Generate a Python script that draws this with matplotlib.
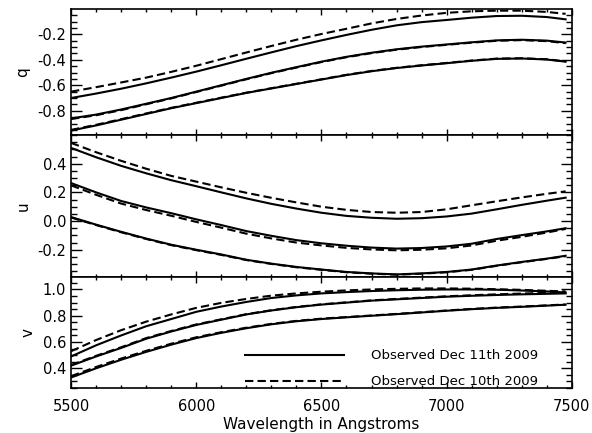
import matplotlib
matplotlib.use("Agg")
import matplotlib.pyplot as plt
from matplotlib.ticker import MultipleLocator, FormatStrFormatter

plt.rcParams['font.family'] = ['DejaVu Sans']

wave = [5500, 5600, 5700, 5800, 5900, 6000, 6100, 6200, 6300, 6400, 6500,
        6600, 6700, 6800, 6900, 7000, 7100, 7200, 7300, 7400, 7475]

# q panel: three curves per date
q_dec11 = [
    [-0.70, -0.665, -0.627, -0.585, -0.54, -0.493, -0.443, -0.392, -0.342, -0.293, -0.248,
     -0.205, -0.165, -0.13, -0.105, -0.088, -0.07, -0.057, -0.055, -0.065, -0.083],
    [-0.86, -0.83, -0.79, -0.745, -0.70, -0.65, -0.60, -0.55, -0.502, -0.458, -0.415,
     -0.377, -0.345, -0.318, -0.297, -0.28, -0.263, -0.248, -0.243, -0.25, -0.265],
    [-0.955, -0.915, -0.87, -0.825, -0.78, -0.74, -0.70, -0.66, -0.625, -0.59, -0.555,
     -0.52, -0.49, -0.465, -0.445, -0.427, -0.408, -0.393, -0.39, -0.398, -0.415],
]
q_dec10 = [
    [-0.65, -0.615, -0.578, -0.54, -0.495, -0.447, -0.395, -0.343, -0.292, -0.243, -0.198,
     -0.157, -0.115, -0.08, -0.053, -0.032, -0.02, -0.015, -0.015, -0.025, -0.04],
    [-0.865, -0.835, -0.795, -0.749, -0.703, -0.653, -0.603, -0.553, -0.505, -0.461, -0.418,
     -0.38, -0.348, -0.321, -0.3, -0.283, -0.266, -0.251, -0.246, -0.254, -0.27],
    [-0.95, -0.91, -0.866, -0.821, -0.777, -0.737, -0.697, -0.658, -0.623, -0.588, -0.553,
     -0.518, -0.488, -0.463, -0.443, -0.425, -0.406, -0.391, -0.388, -0.396, -0.413],
]

# u panel
u_dec11 = [
    [0.51, 0.445, 0.385, 0.333, 0.285, 0.243, 0.2, 0.158, 0.12, 0.087, 0.058,
     0.036, 0.023, 0.016, 0.02, 0.032, 0.052, 0.082, 0.113, 0.142, 0.163],
    [0.265, 0.20, 0.14, 0.095, 0.055, 0.012, -0.028, -0.07, -0.103, -0.133, -0.155,
     -0.172, -0.185, -0.192, -0.188, -0.177, -0.158, -0.125, -0.098, -0.072, -0.05],
    [0.028, -0.025, -0.075, -0.122, -0.165, -0.20, -0.233, -0.27, -0.297, -0.32, -0.338,
     -0.355, -0.365, -0.372, -0.365, -0.355, -0.338, -0.31, -0.285, -0.262, -0.242],
]
u_dec10 = [
    [0.545, 0.48, 0.42, 0.365, 0.315, 0.275, 0.235, 0.197, 0.162, 0.13, 0.10,
     0.078, 0.063, 0.058, 0.063, 0.082, 0.11, 0.138, 0.165, 0.19, 0.207],
    [0.249, 0.183, 0.122, 0.077, 0.037, -0.006, -0.046, -0.088, -0.121, -0.15, -0.17,
     -0.187, -0.198, -0.204, -0.2, -0.19, -0.17, -0.137, -0.11, -0.08, -0.055],
    [0.025, -0.028, -0.078, -0.125, -0.168, -0.203, -0.236, -0.272, -0.299, -0.322, -0.34,
     -0.357, -0.367, -0.374, -0.367, -0.357, -0.34, -0.312, -0.287, -0.264, -0.245],
]

# v panel
v_dec11 = [
    [0.49, 0.575, 0.65, 0.72, 0.775, 0.83, 0.87, 0.905, 0.935, 0.955, 0.97,
     0.98, 0.988, 0.994, 0.998, 1.0, 1.0, 0.998, 0.992, 0.985, 0.977],
    [0.42, 0.49, 0.555, 0.625, 0.68, 0.73, 0.77, 0.81, 0.84, 0.865, 0.885,
     0.90, 0.915, 0.925, 0.935, 0.945, 0.952, 0.958, 0.963, 0.967, 0.97],
    [0.33, 0.40, 0.465, 0.525, 0.58, 0.63, 0.67, 0.705, 0.735, 0.758, 0.775,
     0.788, 0.80, 0.812, 0.825, 0.838, 0.85, 0.86, 0.868, 0.877, 0.884],
]
v_dec10 = [
    [0.53, 0.615, 0.69, 0.755, 0.81, 0.86, 0.898, 0.928, 0.953, 0.97, 0.983,
     0.993, 1.0, 1.005, 1.008, 1.008, 1.006, 1.002, 0.997, 0.99, 0.985],
    [0.425, 0.495, 0.56, 0.63, 0.684, 0.734, 0.773, 0.812, 0.842, 0.867, 0.887,
     0.902, 0.917, 0.928, 0.938, 0.948, 0.956, 0.963, 0.969, 0.974, 0.98],
    [0.34, 0.41, 0.474, 0.533, 0.587, 0.636, 0.675, 0.709, 0.738, 0.761, 0.778,
     0.79, 0.802, 0.814, 0.827, 0.84, 0.852, 0.862, 0.87, 0.879, 0.886],
]

panels = [
    ('q', q_dec11, q_dec10, (-0.99, -0.002), [-0.8, -0.6, -0.4, -0.2]),
    ('u', u_dec11, u_dec10, (-0.39, 0.6), [-0.2, 0.0, 0.2, 0.4]),
    ('v', v_dec11, v_dec10, (0.25, 1.095), [0.4, 0.6, 0.8, 1.0]),
]

fig = plt.figure(figsize=(5.92, 4.33), dpi=100)
# axes boxes in figure fractions (left, bottom, width, height)
boxes = [
    (0.12, 0.6882, 0.846, 0.291),
    (0.12, 0.3603, 0.846, 0.3279),
    (0.12, 0.1039, 0.846, 0.2564),
]

for (name, solid, dashed, ylim, yticks), box in zip(panels, boxes):
    ax = fig.add_axes(box)
    for i in range(3):
        ax.plot(wave, solid[i], color='black', lw=1.5, ls='-',
                label='Observed Dec 11th 2009' if i == 0 else None)
        ax.plot(wave, dashed[i], color='black', lw=1.5, ls=(0, (4, 2)),
                label='Observed Dec 10th 2009' if i == 0 else None)
    ax.set_xlim(5500, 7500)
    ax.set_ylim(*ylim)
    ax.set_yticks(yticks)
    ax.yaxis.set_minor_locator(MultipleLocator(0.05))
    ax.xaxis.set_major_locator(MultipleLocator(500))
    ax.xaxis.set_minor_locator(MultipleLocator(100))
    ax.yaxis.set_major_formatter(FormatStrFormatter('%.1f'))
    ax.tick_params(axis='both', which='both', direction='in', top=True, right=True,
                   labelsize=10.5, width=1)
    ax.tick_params(axis='y', which='major', length=8)
    ax.tick_params(axis='y', which='minor', length=4)
    ax.tick_params(axis='x', which='major', length=4.5)
    ax.tick_params(axis='x', which='minor', length=2.5)
    for sp in ax.spines.values():
        sp.set_linewidth(1.2)
    ax.set_ylabel(name, fontsize=11, labelpad=5)
    if name != 'v':
        ax.tick_params(axis='x', labelbottom=False)
    else:
        ax.set_xlabel('Wavelength in Angstroms', fontsize=11, labelpad=2)
        ax.tick_params(axis='x', pad=8)
        ax.legend(loc='lower right', bbox_to_anchor=(0.956, -0.11), frameon=False,
                  fontsize=9.5, handlelength=7.5, handletextpad=2.0,
                  labelspacing=1.0)

fig.savefig('out.png', dpi=100)
